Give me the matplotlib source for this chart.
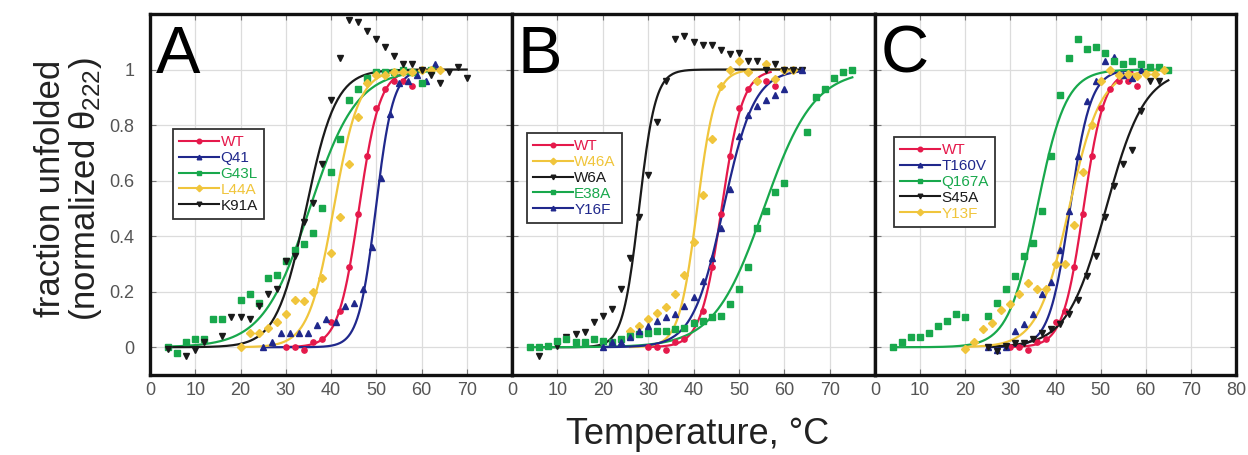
import numpy as np
import matplotlib
matplotlib.use('Agg')
import matplotlib.pyplot as plt

plt.rcParams['font.family'] = ['Liberation Sans', 'DejaVu Sans']

RED = '#e5194b'
BLUE = '#20288c'
GREEN = '#18a84c'
YELLOW = '#f0c53c'
BLACK = '#1a1a1a'

# wild type, same points in all three panels
wt_temp = [30, 32, 34, 36, 38, 40, 42, 44, 46, 48, 50, 52, 54, 56, 58]
wt_frac = [0, 0, -0.01, 0.02, 0.03, 0.09, 0.13, 0.29, 0.48, 0.69, 0.86, 0.93, 0.96, 0.96, 0.94]

# panel A
q41_temp = [25, 27, 29, 31, 33, 35, 37, 39, 41, 43, 45, 47, 49, 51, 53, 55, 57, 59, 61, 63]
q41_frac = [0, 0.02, 0.05, 0.05, 0.05, 0.05, 0.08, 0.10, 0.09, 0.15, 0.16, 0.21, 0.36, 0.61,
            0.84, 0.95, 0.96, 0.98, 0.96, 1.02]
g43l_temp = [4, 6, 8, 10, 12, 14, 16, 20, 22, 24, 26, 28, 30, 32, 34, 36, 38, 40, 42, 44,
             46, 48, 50, 52, 54, 56, 58, 60, 62]
g43l_frac = [0, -0.02, 0.02, 0.03, 0.03, 0.10, 0.10, 0.17, 0.19, 0.16, 0.25, 0.26, 0.31, 0.35,
             0.37, 0.41, 0.50, 0.63, 0.75, 0.89, 0.93, 0.97, 0.99, 0.99, 0.99, 1.0, 0.99, 0.95, 1.0]
l44a_temp = [20, 22, 24, 26, 28, 30, 32, 34, 36, 38, 40, 42, 44, 46, 48, 50, 52, 54, 56, 58,
             60, 62, 64]
l44a_frac = [0, 0.05, 0.05, 0.07, 0.09, 0.12, 0.17, 0.165, 0.20, 0.25, 0.34, 0.47, 0.66, 0.83,
             0.95, 0.98, 0.98, 0.99, 0.99, 0.99, 1.0, 1.0, 1.0]
k91a_temp = [4, 8, 10, 12, 16, 18, 20, 22, 24, 26, 28, 30, 32, 34, 36, 38, 40, 42, 44, 46,
             48, 50, 52, 54, 56, 58, 60, 62, 64, 66, 68, 70]
k91a_frac = [-0.005, -0.03, -0.01, 0.02, 0.04, 0.11, 0.11, 0.10, 0.15, 0.19, 0.21, 0.31, 0.33,
             0.45, 0.52, 0.66, 0.89, 1.04, 1.18, 1.17, 1.14, 1.11, 1.08, 1.05, 1.02, 1.02, 1.0,
             0.98, 0.95, 0.99, 1.01, 0.97]

# panel B
w46a_temp = [26, 28, 30, 32, 34, 36, 38, 40, 42, 44, 46, 48, 50, 52, 54, 56, 58, 60, 62]
w46a_frac = [0.058, 0.075, 0.10, 0.125, 0.144, 0.19, 0.26, 0.38, 0.55, 0.75, 0.94, 1.0, 1.03,
             0.99, 0.96, 1.02, 0.965, 1.0, 1.0]
w6a_temp = [6, 10, 12, 14, 16, 18, 20, 22, 24, 26, 28, 30, 32, 34, 36, 38, 40, 42, 44, 46,
            48, 50, 52, 54, 56, 58, 60, 62, 64]
w6a_frac = [-0.03, 0.006, 0.036, 0.048, 0.054, 0.09, 0.114, 0.138, 0.21, 0.32, 0.47, 0.62, 0.81,
            0.96, 1.11, 1.12, 1.10, 1.09, 1.09, 1.07, 1.055, 1.06, 1.03, 1.03, 1.0, 1.02, 1.0,
            1.0, 1.0]
e38a_temp = [4, 6, 8, 10, 12, 14, 16, 18, 20, 22, 24, 26, 28, 30, 32, 34, 36, 38, 40, 42,
             44, 46, 48, 50, 52, 54, 56, 58, 60, 65, 67, 69, 71, 73, 75]
e38a_frac = [0, 0, 0.006, 0.024, 0.03, 0.018, 0.02, 0.03, 0.024, 0.018, 0.03, 0.042, 0.048,
             0.05, 0.058, 0.06, 0.066, 0.07, 0.087, 0.094, 0.11, 0.114, 0.154, 0.21, 0.29, 0.43,
             0.49, 0.56, 0.59, 0.775, 0.90, 0.93, 0.97, 0.99, 1.0]
y16f_temp = [20, 22, 24, 26, 28, 30, 32, 34, 36, 38, 40, 42, 44, 46, 48, 50, 52, 54, 56, 58,
             60, 64]
y16f_frac = [0, 0.018, 0.02, 0.036, 0.06, 0.078, 0.096, 0.11, 0.12, 0.15, 0.18, 0.24, 0.32,
             0.43, 0.57, 0.76, 0.835, 0.87, 0.89, 0.91, 0.93, 1.0]

# panel C
t160v_temp = [25, 27, 29, 31, 33, 35, 37, 39, 41, 43, 45, 47, 49, 51, 53, 55, 57, 59]
t160v_frac = [0, -0.01, 0, 0.06, 0.084, 0.12, 0.19, 0.235, 0.35, 0.49, 0.69, 0.885, 0.96,
              1.03, 1.045, 0.98, 0.97, 1.0]
q167a_temp = [4, 6, 8, 10, 12, 14, 16, 18, 20, 25, 27, 29, 31, 33, 35, 37, 39, 41, 43, 45,
              47, 49, 51, 53, 55, 57, 59, 61, 63, 65]
q167a_frac = [0, 0.02, 0.036, 0.036, 0.05, 0.075, 0.096, 0.12, 0.11, 0.114, 0.16, 0.21, 0.255,
              0.33, 0.375, 0.49, 0.69, 0.91, 1.04, 1.11, 1.075, 1.08, 1.06, 1.03, 1.02, 1.03,
              1.02, 1.01, 1.01, 1.0]
s45a_temp = [25, 27, 29, 31, 33, 35, 37, 39, 41, 43, 45, 47, 49, 51, 53, 55, 57, 59, 61, 63]
s45a_frac = [0, -0.015, 0.006, 0.015, 0.015, 0.03, 0.05, 0.066, 0.084, 0.12, 0.17, 0.255, 0.33,
             0.47, 0.58, 0.66, 0.71, 0.85, 0.96, 0.96]
y13f_temp = [20, 22, 24, 26, 28, 30, 32, 34, 36, 38, 40, 42, 44, 46, 48, 50, 52, 54, 56, 58,
             60, 62, 64]
y13f_frac = [-0.005, 0.018, 0.066, 0.087, 0.135, 0.154, 0.19, 0.23, 0.21, 0.21, 0.30, 0.30,
             0.44, 0.63, 0.80, 0.96, 1.0, 0.98, 0.985, 0.975, 0.985, 0.985, 1.0]

# two-state fit: midpoint Tm, width, first and last temperature
fit_tm = {'WT': 46.2, 'Q41': 49.9, 'G43L': 35.3, 'L44A': 40.6, 'K91A': 34.5,
          'W46A': 40.8, 'W6A': 28.0, 'E38A': 55.5, 'Y16F': 46.6,
          'T160V': 43.2, 'Q167A': 35.9, 'S45A': 51.2, 'Y13F': 43.0}
fit_w = {'WT': 2.3, 'Q41': 1.9, 'G43L': 5.2, 'L44A': 2.8, 'K91A': 3.3,
         'W46A': 2.0, 'W6A': 1.8, 'E38A': 5.5, 'Y16F': 3.4,
         'T160V': 2.3, 'Q167A': 3.2, 'S45A': 4.3, 'Y13F': 3.5}
fit_range = {'WT': (30, 57), 'Q41': (25, 63), 'G43L': (4, 62), 'L44A': (20, 64), 'K91A': (4, 70),
             'W46A': (26, 62), 'W6A': (6, 64), 'E38A': (4, 75), 'Y16F': (20, 64),
             'T160V': (25, 59), 'Q167A': (4, 65), 'S45A': (25, 65), 'Y13F': (20, 64)}

panels = [
    ('A', [('WT', wt_temp, wt_frac, RED, 'o'),
           ('Q41', q41_temp, q41_frac, BLUE, '^'),
           ('G43L', g43l_temp, g43l_frac, GREEN, 's'),
           ('L44A', l44a_temp, l44a_frac, YELLOW, 'D'),
           ('K91A', k91a_temp, k91a_frac, BLACK, 'v')]),
    ('B', [('WT', wt_temp, wt_frac, RED, 'o'),
           ('W46A', w46a_temp, w46a_frac, YELLOW, 'D'),
           ('W6A', w6a_temp, w6a_frac, BLACK, 'v'),
           ('E38A', e38a_temp, e38a_frac, GREEN, 's'),
           ('Y16F', y16f_temp, y16f_frac, BLUE, '^')]),
    ('C', [('WT', wt_temp, wt_frac, RED, 'o'),
           ('T160V', t160v_temp, t160v_frac, BLUE, '^'),
           ('Q167A', q167a_temp, q167a_frac, GREEN, 's'),
           ('S45A', s45a_temp, s45a_frac, BLACK, 'v'),
           ('Y13F', y13f_temp, y13f_frac, YELLOW, 'D')]),
]

legend_anchor = [(0.064, 0.681), (0.041, 0.670), (0.053, 0.659)]
ms = {'o': 3.8, '^': 4.2, 's': 4.5, 'D': 3.6, 'v': 4.4}


def draw_panel(ax, letter, series, anchor):
    for name, temp, frac, color, marker in series:
        lo, hi = fit_range[name]
        tt = np.linspace(lo, hi, 200)
        ff = 1.0 / (1.0 + np.exp(-(tt - fit_tm[name]) / fit_w[name]))
        ax.plot(tt, ff, color=color, lw=1.6, zorder=2)
        ax.plot(temp, frac, ls='none', marker=marker, ms=ms[marker], color=color,
                mec=color, zorder=3)
    # legend handles: line with one marker in the middle
    handles = [plt.Line2D([], [], color=c, lw=1.5, marker=m, ms=3.3) for _, _, _, c, m in series]
    leg = ax.legend(handles, [s[0] for s in series], loc='upper left', bbox_to_anchor=anchor,
                    borderaxespad=0, fontsize=11, handlelength=2.6, handletextpad=0.1,
                    labelspacing=0.12, borderpad=0.4, fancybox=False, framealpha=1,
                    edgecolor='#333333')
    leg.get_frame().set_linewidth(1.3)
    for txt, s in zip(leg.get_texts(), series):
        txt.set_color(s[3])
    ax.text(0.015, 0.97, letter, transform=ax.transAxes, fontsize=48, va='top', ha='left')

    ax.set_xlim(0, 80)
    ax.set_ylim(-0.1, 1.2)
    ax.set_yticks([0, 0.2, 0.4, 0.6, 0.8, 1])
    ax.set_yticklabels(['0', '0.2', '0.4', '0.6', '0.8', '1'])
    ax.grid(True, color='#dcdcdc', lw=0.9)
    ax.set_axisbelow(True)
    ax.tick_params(direction='in', length=4, color='#777777', labelcolor='#555555',
                   labelsize=13, top=True, right=True)
    ax.tick_params(axis='x', pad=5)
    ax.tick_params(axis='y', pad=11)
    for sp in ax.spines.values():
        sp.set_linewidth(2.4)
        sp.set_color('#111111')


def main():
    fig = plt.figure(figsize=(12.48, 4.55), dpi=100)
    lefts = [150, 512, 875]
    rights = [512, 875, 1236]
    axes = []
    for i, (letter, series) in enumerate(panels):
        l, r = lefts[i], rights[i]
        ax = fig.add_axes([l / 1248, 1 - 375 / 455, (r - l) / 1248, 361 / 455])
        draw_panel(ax, letter, series, legend_anchor[i])
        axes.append(ax)
    axes[0].set_xticks(range(0, 80, 10))
    axes[1].set_xticks(range(0, 80, 10))
    axes[2].set_xticks(range(0, 90, 10))
    axes[1].tick_params(labelleft=False)
    axes[2].tick_params(labelleft=False)

    fig.text(0.0555, 0.585, 'fraction unfolded\n(normalized $\\mathregular{\\theta_{222}}$)',
             rotation=90, ha='center', va='center', fontsize=25, linespacing=1.0,
             color='#222222')
    fig.text(0.559, 0.045, 'Temperature, \u00b0C', ha='center', va='center', fontsize=26,
             color='#222222')
    fig.savefig('out.png', dpi=100)


if __name__ == '__main__':
    main()
